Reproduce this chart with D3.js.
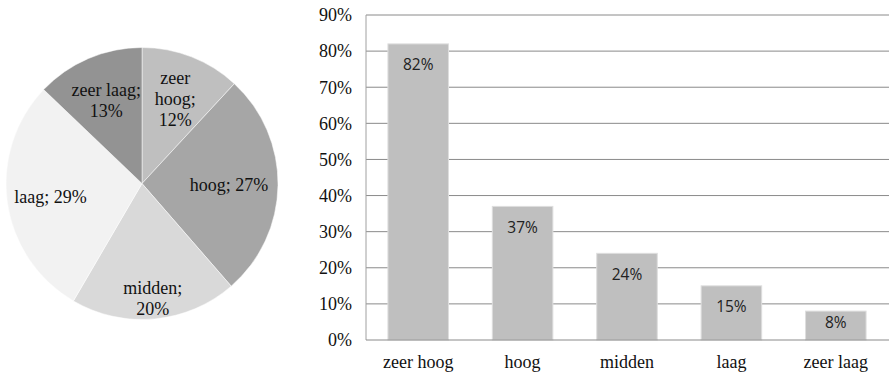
<!DOCTYPE html>
<html>
<head>
<meta charset="utf-8">
<script src="https://cdn.jsdelivr.net/npm/d3@7"></script>
<style>
  html, body { margin: 0; padding: 0; background: #fff; }
  svg { display: block; }
</style>
</head>
<body>
<svg id="chart" width="889" height="373"></svg>
<script>
// Pie: share per level
const pieCategories = ["zeer hoog", "hoog", "midden", "laag", "zeer laag"];
const pieValues = [12, 27, 20, 29, 13];

// Bars: percentage per level
const barCategories = ["zeer hoog", "hoog", "midden", "laag", "zeer laag"];
const barValues = [82, 37, 24, 15, 8];

// Axis ticks
const yTicks = [0, 10, 20, 30, 40, 50, 60, 70, 80, 90];

const svg = d3.select("#chart");
const serif = "'Liberation Serif', 'Times New Roman', serif";
const sans = "'Open Sans', 'Liberation Sans', sans-serif";

// ---------- Pie ----------
const pieColors = ["#bfbfbf", "#a6a6a6", "#d9d9d9", "#f2f2f2", "#939393"];
const labelRadius = [0.67, 0.64, 0.85, 0.68, 0.67];
const wrapWidth = [45, 200, 70, 200, 85];
const cx = 142, cy = 183.5, R = 136;

const pie = d3.pie().sort(null).value(d => d.v);
const arcs = pie(pieCategories.map((c, i) => ({ c, v: pieValues[i], i })));
const arc = d3.arc().innerRadius(0).outerRadius(R);

const gPie = svg.append("g").attr("transform", `translate(${cx},${cy})`);
gPie.selectAll("path.slice").data(arcs).join("path")
  .attr("class", "slice")
  .attr("d", arc)
  .attr("fill", (d, i) => pieColors[i])
  .attr("stroke", "#ffffff")
  .attr("stroke-width", 0.5);

const lineH = 21;
arcs.forEach((d, i) => {
  const r = R * labelRadius[i];
  const c = d3.arc().innerRadius(r).outerRadius(r).centroid(d);
  const words = `${d.data.c}; ${d.data.v}%`.split(" ");
  const t = gPie.append("text")
    .attr("font-family", serif).attr("font-size", 18).attr("fill", "#111")
    .attr("text-anchor", "middle");
  // greedy word wrap
  const lines = [];
  let cur = [];
  words.forEach(w => {
    const test = cur.concat([w]).join(" ");
    t.text(test);
    if (cur.length && t.node().getComputedTextLength() > wrapWidth[i]) {
      lines.push(cur.join(" "));
      cur = [w];
    } else {
      cur.push(w);
    }
  });
  lines.push(cur.join(" "));
  t.text(null);
  const y0 = c[1] - (lines.length - 1) * lineH / 2;
  lines.forEach((ln, k) => {
    t.append("tspan").attr("x", c[0]).attr("y", y0 + k * lineH)
      .attr("dy", "0.35em").text(ln);
  });
});

// ---------- Bars ----------
const x = d3.scaleBand().domain(barCategories).range([366, 888])
  .paddingInner(0.42).paddingOuter(0.21);
const y = d3.scaleLinear().domain([0, 90]).range([340, 15]);

const gBar = svg.append("g");

// gridlines
gBar.selectAll("line.grid").data(yTicks.filter(t => t > 0)).join("line")
  .attr("class", "grid")
  .attr("x1", 366).attr("x2", 889)
  .attr("y1", d => y(d)).attr("y2", d => y(d))
  .attr("stroke", "#8a8a8a").attr("stroke-width", 1);

// bars
gBar.selectAll("rect.bar").data(barValues).join("rect")
  .attr("class", "bar")
  .attr("x", (d, i) => x(barCategories[i]))
  .attr("width", x.bandwidth())
  .attr("y", d => y(d))
  .attr("height", d => y(0) - y(d))
  .attr("fill", "#bfbfbf")
  .attr("stroke", "#dedede").attr("stroke-width", 1);

// value labels, inside the bar end, kept within short bars
gBar.selectAll("text.val").data(barValues).join("text")
  .attr("class", "val")
  .attr("x", (d, i) => x(barCategories[i]) + x.bandwidth() / 2)
  .attr("y", d => Math.min(y(d) + 21, y(0) - 17))
  .attr("dy", "0.35em")
  .attr("text-anchor", "middle")
  .attr("font-family", sans).attr("font-size", 15.5).attr("fill", "#222")
  .text(d => d + "%");

// axes lines
gBar.append("line").attr("x1", 366).attr("x2", 366).attr("y1", y(90)).attr("y2", y(0))
  .attr("stroke", "#a0a0a0").attr("stroke-width", 1);
gBar.append("line").attr("x1", 366).attr("x2", 889).attr("y1", y(0)).attr("y2", y(0))
  .attr("stroke", "#8a8a8a").attr("stroke-width", 1);

// y tick labels
gBar.selectAll("text.ytick").data(yTicks).join("text")
  .attr("class", "ytick")
  .attr("x", 352).attr("y", d => y(d)).attr("dy", "0.35em")
  .attr("text-anchor", "end")
  .attr("font-family", serif).attr("font-size", 18).attr("fill", "#111")
  .text(d => d + "%");

// category labels
gBar.selectAll("text.cat").data(barCategories).join("text")
  .attr("class", "cat")
  .attr("x", d => x(d) + x.bandwidth() / 2)
  .attr("y", 362).attr("dy", "0.35em")
  .attr("text-anchor", "middle")
  .attr("font-family", serif).attr("font-size", 18).attr("fill", "#111")
  .text(d => d);
</script>
</body>
</html>
